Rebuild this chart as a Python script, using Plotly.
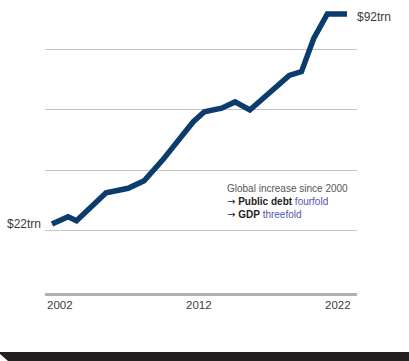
import plotly.graph_objects as go

# Global public debt, trillions of US dollars
dates = ["2002-01-01", "2003-02-01", "2003-09-01", "2005-09-01", "2007-03-01",
         "2008-04-01", "2009-07-01", "2010-10-01", "2011-08-01", "2012-05-01",
         "2013-07-01", "2014-06-01", "2015-06-01", "2018-02-01", "2018-12-01",
         "2019-10-01", "2020-09-01", "2022-01-01"]
debt_trn = [22, 24.4, 23.1, 32.4, 33.9, 36.4, 43.3, 50.6, 56.1, 59.4,
            60.6, 62.7, 60.0, 71.5, 72.8, 83.9, 92, 92]

year_ticks = ["2002", "2012", "2022"]
grid_vals = [20, 40, 60, 80]

W, H = 409, 361
FONT = "Liberation Sans, Arial, sans-serif"
NAVY = "#0b3c6b"
TEXT = "#3a3a3a"
ACCENT = "#5552b0"
X_RANGE = ["2001-07-12", "2022-09-06"]


def py(px):
    """Paper y for a pixel row measured from the top."""
    return 1 - px / H


def pxx(px):
    return px / W


fig = go.Figure()
fig.add_trace(go.Scatter(
    x=dates, y=debt_trn, mode="lines",
    line=dict(color=NAVY, width=5.5, shape="linear"),
    hoverinfo="skip", showlegend=False,
))

# first / last value labels
fig.add_annotation(x=pxx(43), y=py(224), xref="paper", yref="paper",
                   text=f"${debt_trn[0]:.0f}trn", showarrow=False,
                   xanchor="right", yanchor="middle",
                   font=dict(family=FONT, size=12, color=TEXT))
fig.add_annotation(x=pxx(355), y=py(17), xref="paper", yref="paper",
                   text=f"${debt_trn[-1]:.0f}trn", showarrow=False,
                   xanchor="left", yanchor="middle",
                   font=dict(family=FONT, size=12, color=TEXT))

# year labels along the baseline (end labels kept inside the axis span)
anchors = ["left", "center", "right"]
xpos = ["2001-07-20", "2012-01-01", "2022-06-01"]
for lab, xa, xp in zip(year_ticks, anchors, xpos):
    fig.add_annotation(x=xp, y=py(305), xref="x", yref="paper", text=lab,
                       showarrow=False, xanchor=xa, yanchor="middle",
                       font=dict(family=FONT, size=11.5, color=TEXT))

# note box
arrow = "<span style='font-family:DejaVu Sans'>→</span>"
note = ("Global increase since 2000<br>"
        f"<span style='color:#222'>{arrow} <b>Public debt</b></span> "
        f"<span style='color:{ACCENT}'>fourfold</span><br>"
        f"<span style='color:#222'>{arrow} <b>GDP</b></span> "
        f"<span style='color:{ACCENT}'>threefold</span>")
fig.add_annotation(x=pxx(225), y=py(201), xref="paper", yref="paper",
                   text=note, showarrow=False, align="left",
                   xanchor="left", yanchor="middle",
                   font=dict(family=FONT, size=10, color="#555555"))

# dark footer band with a notch at the lower-left corner
fig.add_shape(type="rect", xref="paper", yref="paper",
              x0=0, x1=1, y0=0, y1=py(352), line=dict(width=0),
              fillcolor="#231f20", layer="above")
fig.add_shape(type="path", xref="paper", yref="paper",
              path=f"M 0 {py(354)} L {pxx(8)} 0 L 0 0 Z",
              line=dict(width=0), fillcolor="white", layer="above")

fig.update_layout(
    width=W, height=H,
    margin=dict(l=0, r=0, t=0, b=0, pad=0),
    paper_bgcolor="white", plot_bgcolor="white",
    xaxis=dict(
        domain=[pxx(45), pxx(357)],
        range=X_RANGE,
        type="date",
        showgrid=False, zeroline=False,
        showticklabels=False, ticks="",
        showline=True, linecolor="#b0b0b0", linewidth=2.5,
    ),
    yaxis=dict(
        domain=[py(293), py(10)],
        range=[-1, 93.33],
        tickvals=grid_vals,
        showticklabels=False, ticks="",
        showgrid=True, gridcolor="#c4c4c4", gridwidth=1.2,
        zeroline=False, showline=False,
    ),
)

fig.write_html("out.html")
